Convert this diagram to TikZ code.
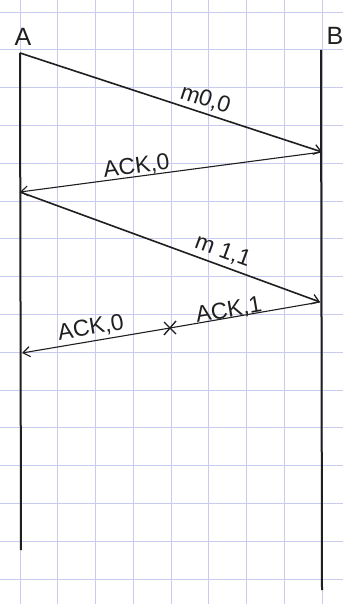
\documentclass[tikz,border=0pt]{standalone}
\usepackage{fontspec}
\setmainfont{Liberation Sans}
\usetikzlibrary{arrows.meta}
\definecolor{gridc}{RGB}{200,202,238}
\tikzset{
  gridline/.style={gridc, line width=0.8pt},
  lifeline/.style={line width=2pt, black!88},
  msg/.style={line width=1.6pt, black!88, -{Straight Barb[length=7pt,width=10pt,line width=1.3pt]}},
  ack/.style={line width=1.1pt, black!88, -{Straight Barb[length=7pt,width=10pt,line width=1.1pt]}},
  lbl/.style={font=\fontsize{23}{25}\selectfont, text=black!88, inner sep=1pt},
  party/.style={font=\fontsize{25}{27}\selectfont, text=black!88, inner sep=0pt},
  lossmark/.style={line width=1.4pt, black!88}
}
\begin{document}
\begin{tikzpicture}[x=1pt,y=-1pt]
\useasboundingbox (0,0) rectangle (343,604);
\fill[white] (0,0) rectangle (343,604);
% grid paper
\foreach \i in {0,...,8} { \draw[gridline] ({20+37.75*\i},0) -- ({20+37.75*\i},604); }
\foreach \j in {0,...,15} { \draw[gridline] (0,{12+37.8*\j}) -- (343,{12+37.8*\j}); }
% parties
\node[party] (A) at (23,37) {A};
\node[party] (B) at (335,36) {B};
\coordinate (Atop) at (20,53);
\coordinate (Abot) at (21,550);
\coordinate (Btop) at (321,50);
\coordinate (Bbot) at (322,590);
\draw[lifeline] (Atop) -- (Abot);
\draw[lifeline] (Btop) -- (Bbot);
% message endpoints
\coordinate (b1) at (322,152);
\coordinate (a2) at (20,192);
\coordinate (b2) at (320,302);
\coordinate (a3) at (22,353);
\draw[msg] (Atop) -- node[lbl, sloped, above=2pt, pos=0.6] {m0,0} (b1);
\draw[ack] (b1) -- node[lbl, sloped, above=-1pt, pos=0.61] {ACK,0} (a2);
\draw[msg] (a2) -- node[lbl, sloped, above=3pt, pos=0.66] {m 1,1} (b2);
\coordinate (X) at (170,328);
\draw[lossmark] (X) ++(-6,-6) -- ++(12,12);
\draw[lossmark] (X) ++(6,-7) -- ++(-12,14);
\draw[ack] (b2) -- node[lbl, sloped, above=-4pt, pos=0.6] {ACK,1} (X) -- node[lbl, sloped, above=2pt, pos=0.52] {ACK,0} (a3);
\end{tikzpicture}
\end{document}
